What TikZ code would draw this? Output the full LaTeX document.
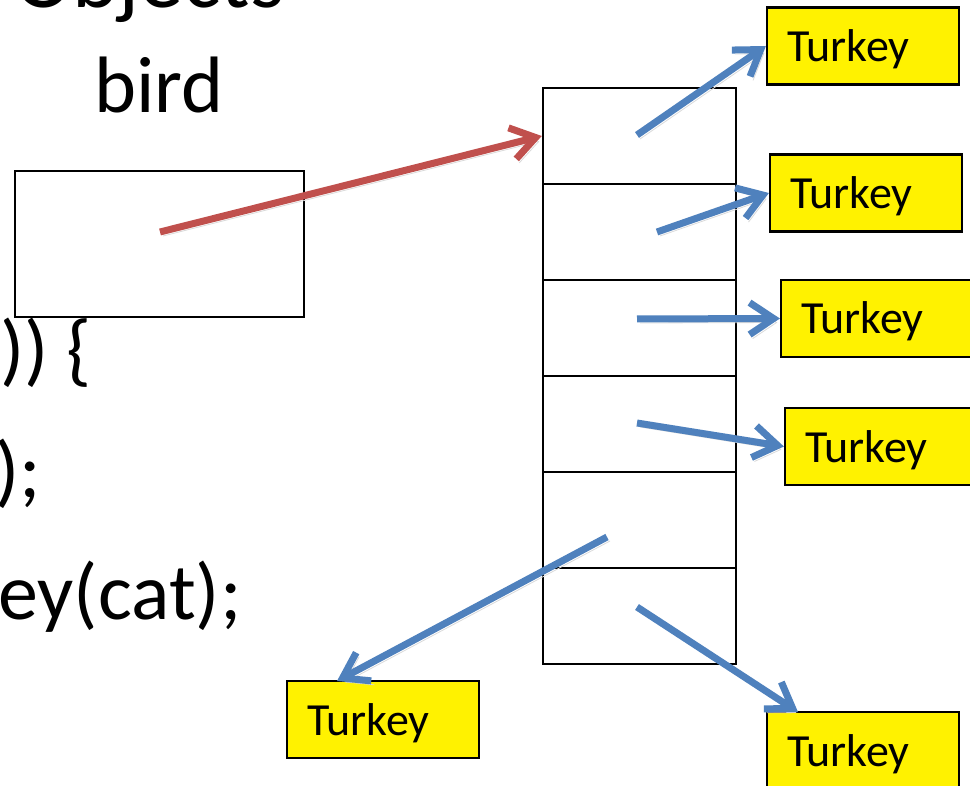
\documentclass[tikz,border=0pt]{standalone}
\usepackage{fontspec}
\setmainfont{Carlito}
\usetikzlibrary{arrows.meta}
\definecolor{offred}{HTML}{C0504D}
\definecolor{offblue}{HTML}{4F81BD}
\begin{document}
\begin{tikzpicture}[x=0.5pt,y=-0.5pt,
  big/.style={font=\fontsize{40}{48}\selectfont, inner sep=0pt, anchor=base west},
  title/.style={font=\fontsize{44}{52}\selectfont, inner sep=0pt, anchor=base west},
  cell/.style={draw, line width=1.25pt, minimum width=96.5pt, minimum height=48pt, inner sep=0pt},
  birdbox/.style={draw, line width=1.25pt, minimum width=144.5pt, minimum height=73pt, inner sep=0pt},
  tbox/.style={draw, line width=1.1pt, fill=yellow, font=\fontsize{23}{27}\selectfont,
    text width=76pt, align=left, inner xsep=10pt, inner ysep=0pt, text height=27pt, text depth=11.5pt},
  ptr/.style={line width=3.5pt, -{Straight Barb[length=12pt,width=16pt]},
    preaction={draw=black!15, transform canvas={shift={(1.5pt,-2pt)}}}},
]
\path[use as bounding box] (0,0) rectangle (970,786);
\clip (0,0) rectangle (970,786);

% texts
\node[title] (ttl) at (14,8) {Objects};
\node[big] (bird) at (94,113) {bird};
\node[big] (l1) at (0,377) {)) \{};
\node[big] (l2) at (-5,497) {);};
\node[big] (l3) at (-2,619) {ey(cat);};

% variable box
\node[birdbox] (bbox) at (159.5,244) {};

% array cells
\node[cell] (c1) at (639.5,136) {};
\node[cell] (c2) at (639.5,232) {};
\node[cell] (c3) at (639.5,328) {};
\node[cell] (c4) at (639.5,424) {};
\node[cell] (c5) at (639.5,520) {};
\node[cell] (c6) at (639.5,616) {};

% Turkey objects
\node[tbox] (t1) at (863,46) {Turkey};
\node[tbox] (t2) at (866,193) {Turkey};
\node[tbox] (t3) at (877,318.5) {Turkey};
\node[tbox] (t4) at (881,446.5) {Turkey};
\node[tbox] (t5) at (383,719.5) {Turkey};
\node[tbox] (t6) at (863,750.5) {Turkey};

% arrow endpoints
\coordinate (rs) at (160,232);
\coordinate (s1) at (637,135);
\coordinate (s2) at (657,232);
\coordinate (s3) at (637,319);
\coordinate (s4) at (637,423);
\coordinate (s5) at (607,537);
\coordinate (s6) at (637,607);
\coordinate (e5) at (337,681);
\coordinate (e6) at (798,712);

% pointers
\draw[ptr, offred] (rs) -- (c1.west);
\draw[ptr, offblue] (s1) -- (t1.west);
\draw[ptr, offblue] (s2) -- (t2.west);
\draw[ptr, offblue] (s3) -- (t3.west);
\draw[ptr, offblue] (s4) -- (t4.west);
\draw[ptr, offblue] (s5) -- (e5);
\draw[ptr, offblue] (s6) -- (e6);
\end{tikzpicture}
\end{document}
